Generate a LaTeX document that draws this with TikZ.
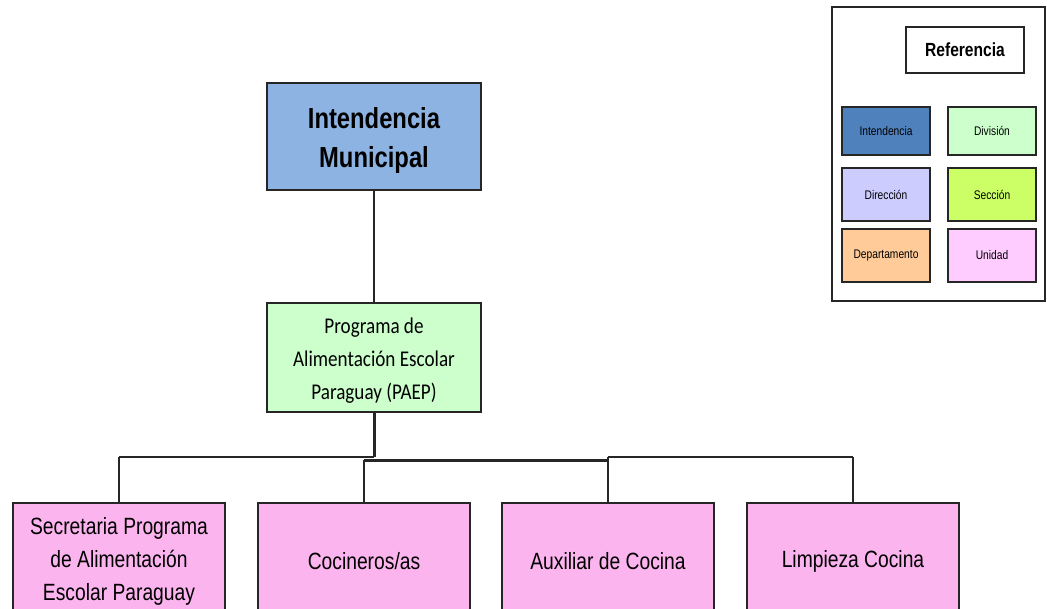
\documentclass[tikz,border=0pt]{standalone}
\usepackage{fontspec}
\newfontfamily\narfont[FakeStretch=0.82]{Liberation Sans}
\newfontfamily\calfont[FakeStretch=0.85]{Carlito}
\definecolor{cIntM}{HTML}{8DB3E2}
\definecolor{cInt}{HTML}{4F81BD}
\definecolor{cDiv}{HTML}{CCFFCC}
\definecolor{cDir}{HTML}{CCCCFF}
\definecolor{cSec}{HTML}{CCFF66}
\definecolor{cDep}{HTML}{FFCC99}
\definecolor{cUni}{HTML}{FFCCFF}
\definecolor{cUnB}{HTML}{FBB4EE}
\tikzset{
  mainbox/.style={draw=black!85, line width=2pt, inner sep=0pt, align=center},
  legbox/.style={draw=black!85, line width=2.6pt, inner sep=0pt, align=center,
    minimum width=88pt, font=\narfont\fontsize{12.5}{14}\selectfont},
  conn/.style={draw=black!85, line width=1.8pt},
  thickconn/.style={draw=black!85, line width=3pt}
}
\begin{document}
\begin{tikzpicture}[x=1pt,y=-1pt]
\useasboundingbox (0,0) rectangle (1047,608);
\clip (0,0) rectangle (1047,608);
% main boxes
\node[mainbox, fill=cIntM, minimum width=214pt, minimum height=107pt,
  label={[name=imt, align=center, yshift=-4pt, font=\narfont\bfseries\fontsize{29}{39}\selectfont]center:Intendencia\\Municipal}] (im) at (374,136.5) {};
\node[mainbox, fill=cDiv, minimum width=214pt, minimum height=109pt,
  label={[name=paept, align=center, yshift=-3pt, font=\calfont\fontsize{22.5}{33}\selectfont]center:Programa de\\Alimentación Escolar\\Paraguay (PAEP)}] (paep) at (374,357.5) {};
% bottom boxes
\tikzset{botbox/.style={mainbox, fill=cUnB, minimum width=212pt, minimum height=116pt,
  font=\narfont\fontsize{23.5}{33}\selectfont}}
\node[botbox] (sec) at (119,561) {Secretaria Programa\\de Alimentación\\Escolar Paraguay};
\node[botbox] (coc) at (364,561) {Cocineros/as};
\node[botbox] (aux) at (608,561) {Auxiliar de Cocina};
\node[botbox] (lim) at (853,561) {Limpieza Cocina};
% connectors
\coordinate (bm) at (374,457);
\coordinate (b1) at (119,457);
\coordinate (b2a) at (364,460);
\coordinate (b3a) at (608,460);
\coordinate (b2) at (364,460);
\coordinate (b3) at (608,457);
\coordinate (b4) at (853,457);
\draw[conn] (im.south) -- (paep.north);
\draw[thickconn] (paep.south) -- (bm);
\draw[conn] (b1) -- (bm);
\draw[thickconn] (b2a) -- (b3a);
\draw[conn] (b3) -- (b4);
\draw[conn] (b1) -- (sec.north);
\draw[conn] (b2) -- (coc.north);
\draw[conn] (b3) -- (aux.north);
\draw[conn] (b4) -- (lim.north);
% legend
\node[draw=black!85, line width=2pt, minimum width=213pt, minimum height=294pt, inner sep=0pt] (leg) at (938.5,154) {};
\node[draw=black!85, line width=2pt, fill=white, minimum width=118pt, minimum height=46pt, inner sep=0pt,
  font=\narfont\bfseries\fontsize{19}{22}\selectfont] (ref) at (965,50) {Referencia};
\node[legbox, fill=cInt, minimum height=48pt] (lint) at (886,131) {Intendencia};
\node[legbox, fill=cDiv, minimum height=48pt] (ldiv) at (992,131) {División};
\node[legbox, fill=cDir, minimum height=53pt] (ldir) at (886,194.5) {Dirección};
\node[legbox, fill=cSec, minimum height=53pt] (lsec) at (992,194.5) {Sección};
\node[legbox, fill=cDep, minimum height=53pt] (ldep) at (886,255.5) {Departamento};
\node[legbox, fill=cUni, minimum height=53pt] (luni) at (992,255.5) {Unidad};
\end{tikzpicture}
\end{document}
